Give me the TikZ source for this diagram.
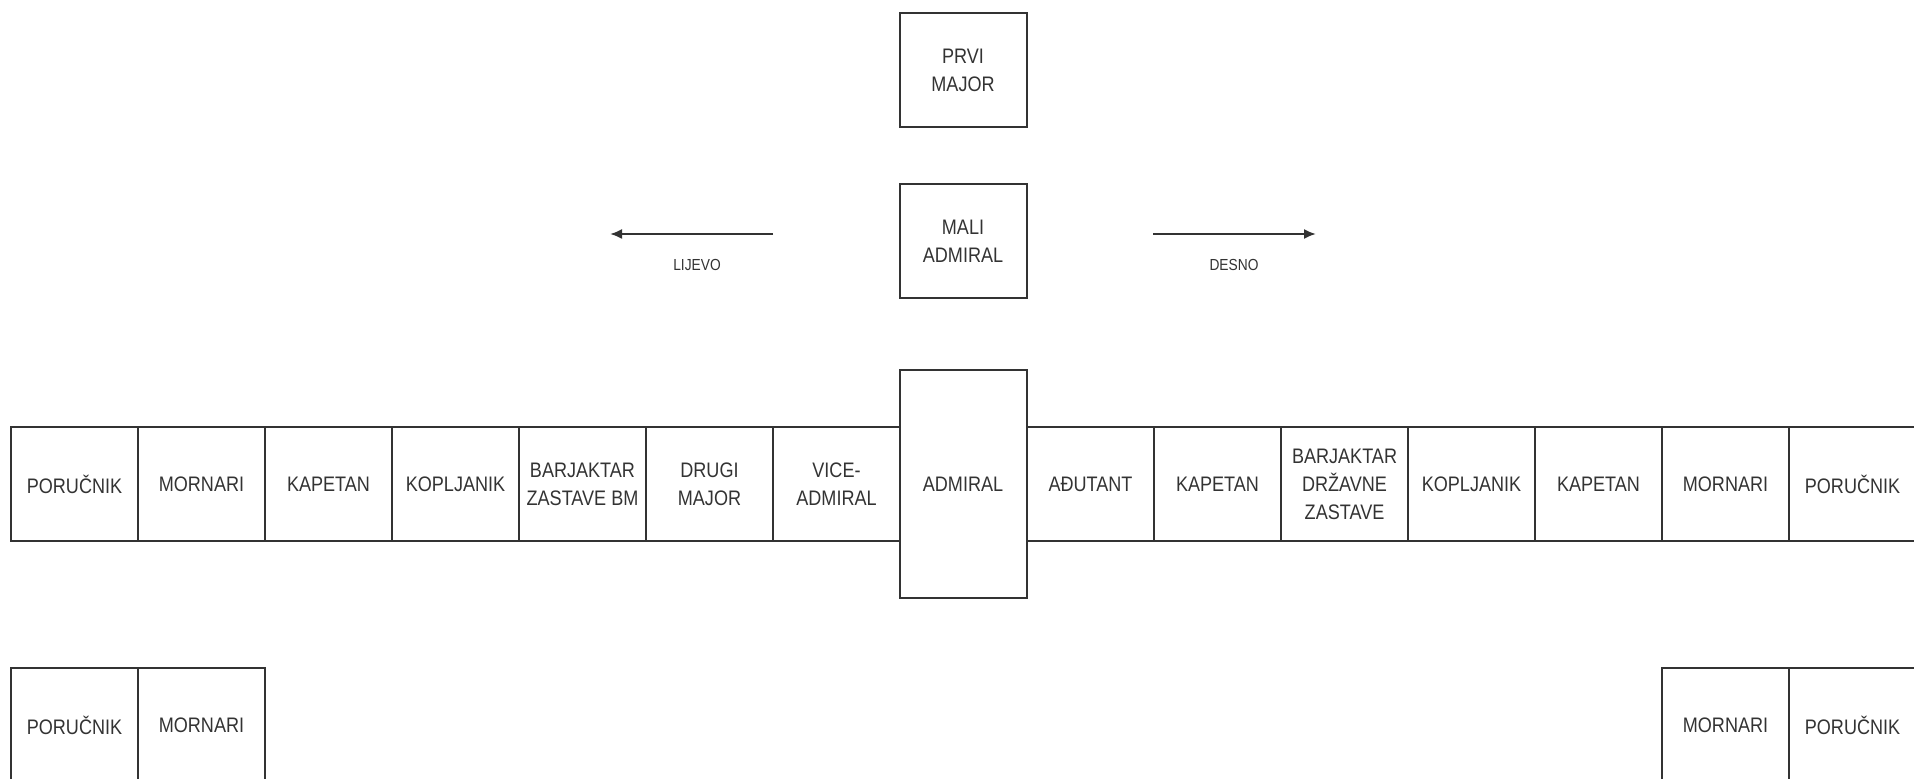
\documentclass[tikz,border=0pt]{standalone}
\usepackage{fontspec}
\setmainfont{Liberation Sans}[FakeStretch=0.86]
\usetikzlibrary{arrows.meta}
\definecolor{ink}{HTML}{333333}
\tikzset{
  rank/.style={draw=ink, line width=1pt, text=ink, minimum width=63.5pt, minimum height=57pt,
    inner sep=0pt, align=center, font=\fontsize{10.5}{14}\selectfont},
  dirlabel/.style={text=ink, font=\fontsize{8}{10}\selectfont, inner sep=0pt},
  dirarrow/.style={draw=ink, line width=1pt, -{Latex[length=6pt,width=5pt]}}
}
\begin{document}
\begin{tikzpicture}[x=0.5pt,y=-0.5pt]
\useasboundingbox (0,0) rectangle (1914,779);
\clip (0,0) rectangle (1914,779);
% top boxes
\node[rank] (prvi) at (963,70) {PRVI\\MAJOR};
\node[rank] (mali) at (963,241.5) {MALI\\ADMIRAL};
% admiral
\node[rank, minimum height=114pt] (admiral) at (963,484) {ADMIRAL};
% left row
\node[rank] (l1) at (74.5,484) {PORUČNIK};
\node[rank] (l2) at (201.5,484) {MORNARI};
\node[rank] (l3) at (328.5,484) {KAPETAN};
\node[rank] (l4) at (455.5,484) {KOPLJANIK};
\node[rank] (l5) at (582.5,484) {BARJAKTAR\\ZASTAVE BM};
\node[rank] (l6) at (709.5,484) {DRUGI\\MAJOR};
\node[rank] (l7) at (836.5,484) {VICE-\\ADMIRAL};
% right row
\node[rank] (r1) at (1090.5,484) {AĐUTANT};
\node[rank] (r2) at (1217.5,484) {KAPETAN};
\node[rank] (r3) at (1344.5,484) {BARJAKTAR\\DRŽAVNE\\ZASTAVE};
\node[rank] (r4) at (1471.5,484) {KOPLJANIK};
\node[rank] (r5) at (1598.5,484) {KAPETAN};
\node[rank] (r6) at (1725.5,484) {MORNARI};
\node[rank] (r7) at (1852.5,484) {PORUČNIK};
% bottom row
\node[rank] (b1) at (74.5,725) {PORUČNIK};
\node[rank] (b2) at (201.5,725) {MORNARI};
\node[rank] (b3) at (1725.5,725) {MORNARI};
\node[rank] (b4) at (1852.5,725) {PORUČNIK};
% direction arrows
\coordinate (lstart) at (773,234);
\coordinate (lend) at (610,234);
\coordinate (rstart) at (1153,234);
\coordinate (rend) at (1316,234);
\draw[dirarrow] (lstart) -- (lend);
\draw[dirarrow] (rstart) -- (rend);
\node[dirlabel] (lijevo) at (697,265) {LIJEVO};
\node[dirlabel] (desno) at (1234,265) {DESNO};
\end{tikzpicture}
\end{document}
